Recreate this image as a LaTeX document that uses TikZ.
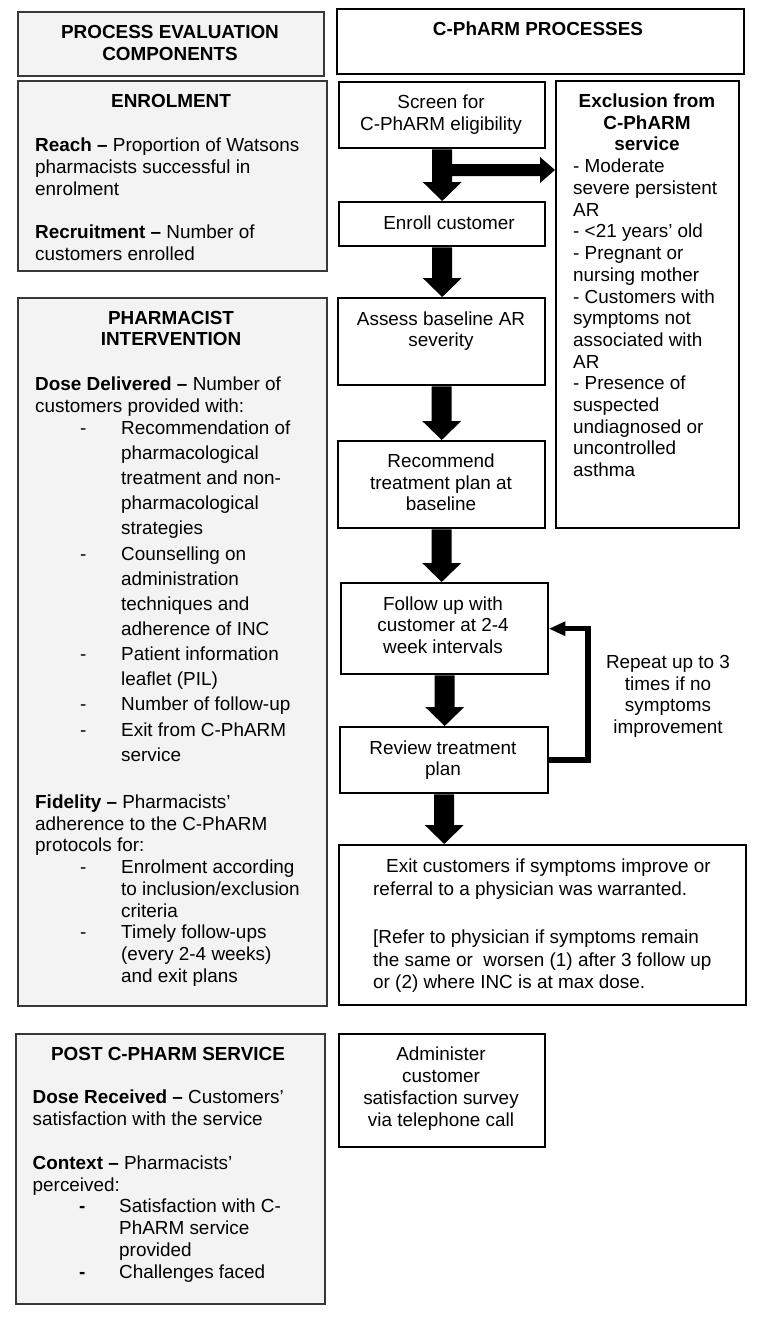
\documentclass[tikz,border=0pt]{standalone}
\usepackage{fontspec}
\setmainfont{Liberation Sans}
\usetikzlibrary{calc}
\newcommand\bodyfont{\fontsize{18.9}{21.7}\selectfont}
\newcommand\bitem[1]{\makebox[86pt][l]{\hspace*{45pt}-}#1}
\newcommand\bcont[1]{\hspace*{86pt}#1}
\newcommand\sitem[1]{\makebox[86.5pt][l]{\hspace*{46.5pt}\textbf{-}}#1}
\newcommand\scont[1]{\hspace*{86.5pt}#1}
\newcommand\blockdown[2]{%
  \fill let \p1=(#1), \p2=(#2) in
    (\x1-10pt,\y1) -- (\x1+10pt,\y1) -- (\x1+10pt,\y2+19pt) -- (\x1+19.5pt,\y2+19pt)
    -- (\x1,\y2) -- (\x1-19.5pt,\y2+19pt) -- (\x1-10pt,\y2+19pt) -- cycle;}
\definecolor{evalfill}{RGB}{242,243,242}
\definecolor{evaldraw}{RGB}{55,55,55}
\begin{document}
\begin{tikzpicture}[x=1pt,y=-1pt,
  evalbox/.style={draw=evaldraw, line width=1.8pt, fill=evalfill, rectangle, anchor=north west, inner sep=0pt},
  procbox/.style={draw=black, line width=2.4pt, fill=white, rectangle, anchor=north west, inner sep=0pt},
  ltxt/.style={inner sep=0pt, align=left, font=\bodyfont, anchor=north west},
  ctxt/.style={inner sep=0pt, align=center, font=\bodyfont, anchor=north},
]
\useasboundingbox (0,0) rectangle (760,1320);

% ---------- boxes ----------
\node[evalbox, minimum width=306pt, minimum height=64pt] (pec) at (17,11) {};
\node[procbox, minimum width=407pt, minimum height=65pt] (cph) at (336,8) {};
\node[evalbox, minimum width=309pt, minimum height=190pt] (enrol) at (17,80) {};
\node[evalbox, minimum width=309pt, minimum height=708pt] (pi) at (17,297) {};
\node[evalbox, minimum width=309pt, minimum height=270pt] (post) at (15,1033) {};

\node[procbox, minimum width=206pt, minimum height=66pt] (screen) at (338,81) {};
\node[procbox, minimum width=183pt, minimum height=447pt] (excl) at (555,80) {};
\node[procbox, minimum width=206pt, minimum height=44pt] (enroll) at (338,201) {};
\node[procbox, minimum width=207pt, minimum height=87pt] (assess) at (337,297) {};
\node[procbox, minimum width=207pt, minimum height=87pt] (recom) at (337,440) {};
\node[procbox, minimum width=207pt, minimum height=91pt] (follow) at (340,582) {};
\node[procbox, minimum width=208pt, minimum height=66pt] (review) at (339,726) {};
\node[procbox, minimum width=407pt, minimum height=160pt] (exit) at (338,844) {};
\node[procbox, minimum width=206pt, minimum height=113pt] (admin) at (338,1033) {};

% ---------- left column text ----------
\node[ctxt] (pect) at (170,23.1) {\strut\textbf{PROCESS EVALUATION}\\\textbf{COMPONENTS}};
\node[ctxt] (cpht) at (538,20.5) {\strut\textbf{C-PhARM PROCESSES}};

\node[ctxt] (enrolt) at (171,92.1) {\strut\textbf{ENROLMENT}};
\node[ltxt] (enrolb) at (35,136.5) {\strut\textbf{Reach –} Proportion of Watsons\\
pharmacists successful in\\
enrolment\\[21.7pt]
\textbf{Recruitment –} Number of\\
customers enrolled};

\node[ctxt] (pit) at (171,308.8) {\strut\textbf{PHARMACIST}\\\textbf{INTERVENTION}};
\node[ltxt] (pib) at (35,375.5) {\strut\textbf{Dose Delivered –} Number of\\
customers provided with:\\
\bitem{Recommendation of}\\[3.45pt]
\bcont{pharmacological}\\[3.45pt]
\bcont{treatment and non-}\\[3.45pt]
\bcont{pharmacological}\\[3.45pt]
\bcont{strategies}\\[3.45pt]
\bitem{Counselling on}\\[3.45pt]
\bcont{administration}\\[3.45pt]
\bcont{techniques and}\\[3.45pt]
\bcont{adherence of INC}\\[3.45pt]
\bitem{Patient information}\\[3.45pt]
\bcont{leaflet (PIL)}\\[3.45pt]
\bitem{Number of follow-up}\\[3.45pt]
\bitem{Exit from C-PhARM}\\[3.45pt]
\bcont{service}\\[25.6pt]
\textbf{Fidelity –} Pharmacists’\\
adherence to the C-PhARM\\
protocols for:\\
\bitem{Enrolment according}\\
\bcont{to inclusion/exclusion}\\
\bcont{criteria}\\
\bitem{Timely follow-ups}\\
\bcont{(every 2-4 weeks)}\\
\bcont{and exit plans}};

\node[ctxt] (postt) at (168,1044.8) {\strut\textbf{POST C-PHARM SERVICE}};
\node[ltxt] (postb) at (32.5,1088.1) {\strut\textbf{Dose Received –} Customers’\\
satisfaction with the service\\[22.6pt]
\textbf{Context –} Pharmacists’\\
perceived:\\
\sitem{Satisfaction with C-}\\
\scont{PhARM service}\\
\scont{provided}\\
\sitem{Challenges faced}};

% ---------- right column text ----------
\node[ctxt] (screent) at (441,93.1) {\strut Screen for\\C-PhARM eligibility};
\node[ctxt] (enrollt) at (449,214.1) {\strut Enroll customer};
\node[ctxt] (assesst) at (441,309.8) {\strut Assess baseline AR\\severity};
\node[ctxt] (recomt) at (441,452.1) {\strut Recommend\\treatment plan at\\baseline};
\node[ctxt] (followt) at (443,594.8) {\strut Follow up with\\customer at 2-4\\week intervals};
\node[ctxt] (reviewt) at (443,738.8) {\strut Review treatment\\plan};
\node[ltxt, font=\fontsize{18.9}{22.6}\selectfont] (exitt) at (373,856.9) {\strut\hspace*{13pt}Exit customers if symptoms improve or\\
referral to a physician was warranted.\\[25.4pt]
[Refer to physician if symptoms remain\\
the same or\ \ worsen (1) after 3 follow up\\
or (2) where INC is at max dose.};
\node[ctxt, font=\fontsize{18.9}{22}\selectfont] (admint) at (441,1044.6) {\strut Administer\\customer\\satisfaction survey\\via telephone call};

\node[ctxt] (exclt) at (647,92.1) {\strut\textbf{Exclusion from}\\\textbf{C-PhARM}\\\textbf{service}};
\node[ltxt] (exclb) at (573,157.5) {\strut - Moderate\\
severe persistent\\
AR\\
- <21 years’ old\\
- Pregnant or\\
nursing mother\\
- Customers with\\
symptoms not\\
associated with\\
AR\\
- Presence of\\
suspected\\
undiagnosed or\\
uncontrolled\\
asthma};

\node[ctxt] (rept) at (668,653.1) {\strut Repeat up to 3\\times if no\\symptoms\\improvement};

% ---------- block arrows ----------
\blockdown{screen.south}{enroll.north}
\blockdown{enroll.south}{assess.north}
\blockdown{assess.south}{recom.north}
\blockdown{recom.south}{follow.north}
\blockdown{follow.south}{review.north}
\blockdown{review.south}{review.south |- exit.north}

% arrow to exclusion
\coordinate (hs) at (445,170);
\fill let \p1=(hs), \p2=(hs -| excl.west) in
  (\x1,\y1+6pt) -- (\x2-15pt,\y1+6pt) -- (\x2-15pt,\y1+13pt) -- (\x2,\y1)
  -- (\x2-15pt,\y1-13pt) -- (\x2-15pt,\y1-6pt) -- (\x1,\y1-6pt) -- cycle;

% repeat loop
\coordinate (fb) at (588,700);
\draw[line width=5.5pt, line join=miter] (review.east) -- (review.east -| fb) -- (fb |- follow.east) -- ([xshift=14pt]follow.east);
\fill let \p1=(follow.east) in (\x1,\y1) -- (\x1+16pt,\y1+7.5pt) -- (\x1+16pt,\y1-7.5pt) -- cycle;
\end{tikzpicture}
\end{document}
